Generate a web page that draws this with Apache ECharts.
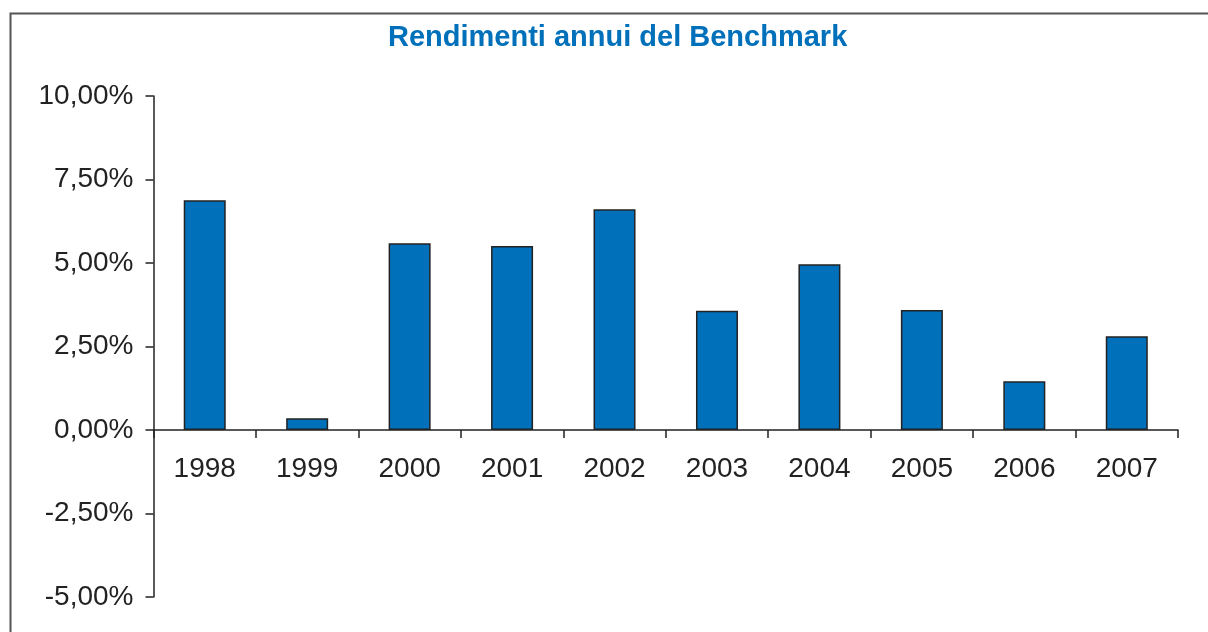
<!DOCTYPE html>
<html><head><meta charset="utf-8">
<script src="https://cdn.jsdelivr.net/npm/echarts@6/dist/echarts.min.js"></script>
<style>html,body{margin:0;padding:0;background:#fff}#c{width:1208px;height:632px}</style>
</head><body><div id="c"></div>
<script>
const title = 'Rendimenti annui del Benchmark';
const categories = ['1998','1999','2000','2001','2002','2003','2004','2005','2006','2007'];
const values = [6.88, 0.35, 5.59, 5.51, 6.61, 3.57, 4.96, 3.59, 1.46, 2.81];
const yTicks = [-5, -2.5, 0, 2.5, 5, 7.5, 10];

const chart = echarts.init(document.getElementById('c'), null, {renderer:'canvas'});
const fmt = v => v.toFixed(2).replace('.', ',') + '%';
const gridTop = 96, gridBottom = 35, H = 632;
const yMin = yTicks[0], yMax = yTicks[yTicks.length-1];
const zeroOffset = -(H - gridTop - gridBottom) * (0 - yMin) / (yMax - yMin);
chart.setOption({
  animation:false,
  title:{text:title, left:383, top:18, textStyle:{fontFamily:'Liberation Sans', fontWeight:'bold', fontSize:29, color:'#0070BA'}},
  graphic:[
    {type:'polyline', shape:{points:[[10.5,640],[10.5,13.5],[1210,13.5]]}, style:{stroke:'#555', lineWidth:2, fill:null}}
  ],
  grid:{left:153.5, right:30, top:gridTop, bottom:gridBottom, outerBoundsMode:'none'},
  xAxis:{type:'category', data:categories, position:'bottom', offset:zeroOffset,
    axisLine:{onZero:false, lineStyle:{color:'#222', width:1.5}},
    axisTick:{show:true, length:8, interval:0, alignWithLabel:false, lineStyle:{color:'#222', width:1.5}},
    axisLabel:{interval:0, margin:25, fontFamily:'Liberation Sans', fontSize:28, color:'#222'}
  },
  yAxis:{type:'value', min:yMin, max:yMax, interval:2.5,
    splitLine:{show:false},
    axisLine:{show:true, lineStyle:{color:'#222', width:1.5}},
    axisTick:{show:true, length:8, lineStyle:{color:'#222', width:1.5}},
    axisLabel:{formatter:fmt, margin:20, fontFamily:'Liberation Sans', fontSize:28, color:'#222'}
  },
  series:[{type:'bar', data:values, barWidth:'41%',
    itemStyle:{color:'#0070BA', borderColor:'#222', borderWidth:1.5}}]
});
</script></body></html>
